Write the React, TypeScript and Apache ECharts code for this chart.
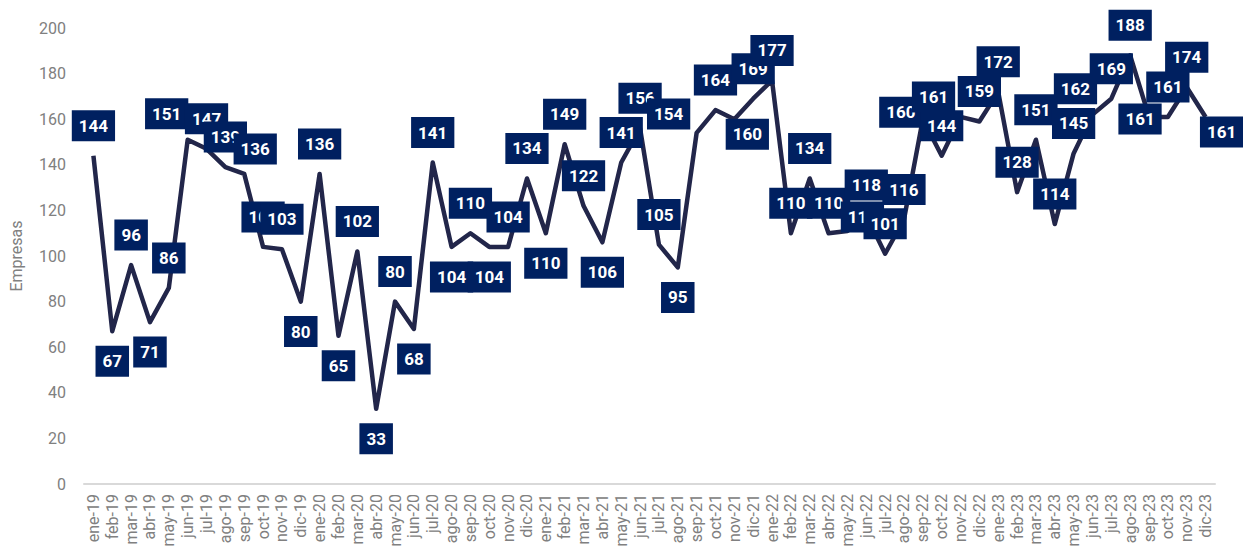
import React, { useEffect, useRef } from "react";
import * as echarts from "echarts";

const categories = [
  "ene-19","feb-19","mar-19","abr-19","may-19","jun-19","jul-19","ago-19","sep-19","oct-19","nov-19","dic-19",
  "ene-20","feb-20","mar-20","abr-20","may-20","jun-20","jul-20","ago-20","sep-20","oct-20","nov-20","dic-20",
  "ene-21","feb-21","mar-21","abr-21","may-21","jun-21","jul-21","ago-21","sep-21","oct-21","nov-21","dic-21",
  "ene-22","feb-22","mar-22","abr-22","may-22","jun-22","jul-22","ago-22","sep-22","oct-22","nov-22","dic-22",
  "ene-23","feb-23","mar-23","abr-23","may-23","jun-23","jul-23","ago-23","sep-23","oct-23","nov-23","dic-23",
];

const empresas = [
  144, 67, 96, 71, 86, 151, 147, 139, 136, 104, 103, 80,
  136, 65, 102, 33, 80, 68, 141, 104, 110, 104, 104, 134,
  110, 149, 122, 106, 141, 156, 105, 95, 154, 164, 160, 169,
  177, 110, 134, 110, 111, 118, 101, 116, 160, 144, 161, 159,
  172, 128, 151, 114, 145, 162, 169, 188, 161, 161, 174, 161,
];

const yTicks = { min: 0, max: 200, interval: 20 };

// label placement (style): indices shown below the point, and manually moved labels
const belowIdx = [1, 3, 11, 13, 15, 17, 19, 21, 24, 27, 31];
const movedLabels: Record<number, [number, number]> = {
  5: [-21, -26],
  8: [11, -25],
  32: [-28, -19],
  34: [13, 15],
  40: [15, -14],
  44: [-22, -7],
  46: [-27, -20],
  53: [-17, -26],
  56: [-9, 2],
  59: [16, 15],
};

export default function App() {
  const ref = useRef<HTMLDivElement>(null);
  useEffect(() => {
    document.body.style.margin = "0";
    if (!ref.current) return;
    const chart = echarts.init(ref.current, null, { renderer: "svg" });
    const data = empresas.map((v, i) => {
      let off: [number, number] = belowIdx.includes(i) ? [0, 30] : [0, -30];
      if (movedLabels[i]) off = movedLabels[i];
      return { value: v, label: { offset: off } };
    });
    chart.setOption({
      animation: false,
      grid: { left: 84, right: 28, top: 28, bottom: 69 },
      xAxis: {
        type: "category",
        data: categories,
        boundaryGap: true,
        axisTick: { show: false },
        axisLine: { lineStyle: { color: "#d9d9d9", width: 2 } },
        axisLabel: {
          rotate: 90,
          interval: 0,
          fontSize: 16,
          color: "#808080",
          fontFamily: "Roboto",
          margin: 10,
        },
      },
      yAxis: {
        type: "value",
        min: yTicks.min,
        max: yTicks.max,
        interval: yTicks.interval,
        name: "Empresas",
        nameLocation: "middle",
        nameGap: 60,
        nameTextStyle: { fontSize: 16, color: "#808080", fontFamily: "Roboto" },
        splitLine: { show: false },
        axisLine: { show: false },
        axisTick: { show: false },
        axisLabel: { fontSize: 16, color: "#808080", fontFamily: "Roboto", margin: 18 },
      },
      series: [
        {
          type: "line",
          data,
          symbol: "circle",
          symbolSize: 1,
          showSymbol: true,
          itemStyle: { color: "rgba(0,0,0,0)" },
          lineStyle: { color: "#22264a", width: 4.5, join: "round" },
          label: {
            show: true,
            position: "inside",
            color: "#ffffff",
            backgroundColor: "#002060",
            fontSize: 17,
            fontWeight: "bold",
            fontFamily: "Roboto",
            padding: [6, 7],
            lineHeight: 19,
          },
        },
      ],
    });
    return () => chart.dispose();
  }, []);
  return <div ref={ref} style={{ width: 1243, height: 553 }} />;
}
